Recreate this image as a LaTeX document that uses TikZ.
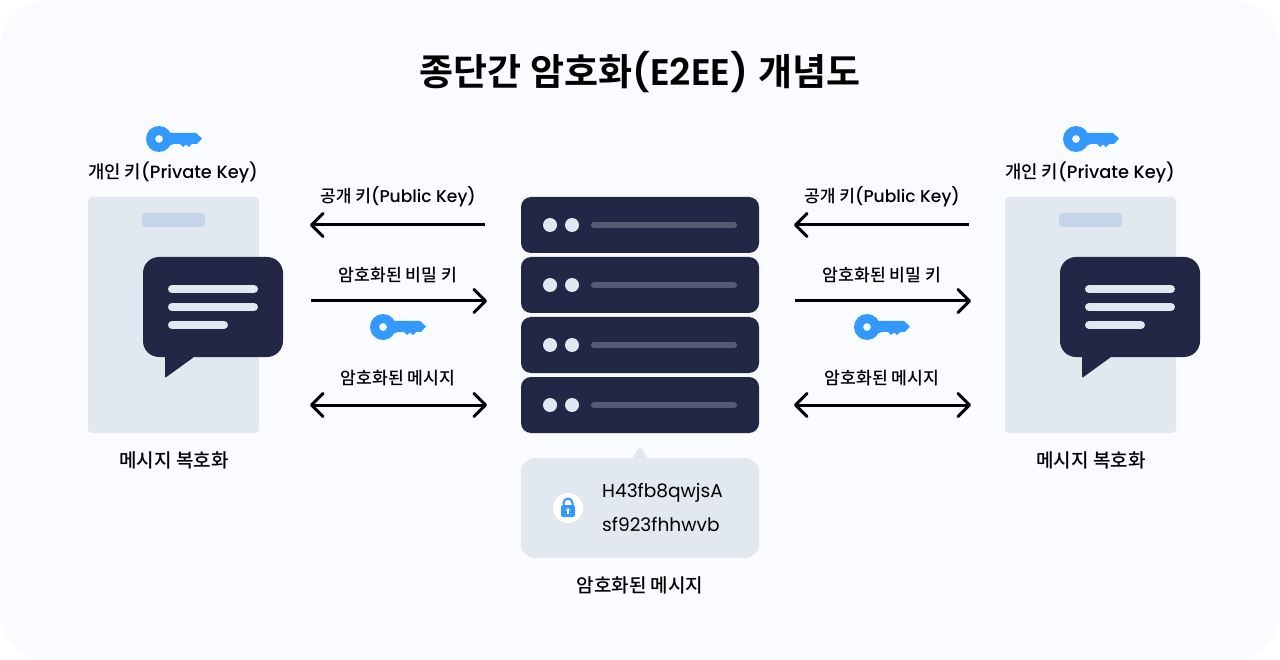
\documentclass[tikz,border=0pt]{standalone}
\usepackage{fontspec}
\usepackage{tikz}
\usetikzlibrary{arrows.meta}
\setmainfont{Poppins Medium}
\newfontfamily\krfont{Noto Sans CJK KR Medium}
\newfontfamily\krtitle{Noto Sans CJK KR Bold}
\newfontfamily\lattitle{Poppins SemiBold}
\newfontfamily\latcode{Poppins}
\definecolor{pagebg}{HTML}{F9FBFF}
\definecolor{navy}{HTML}{222745}
\definecolor{panel}{HTML}{E2E8F0}
\definecolor{pillblue}{HTML}{C5D4E8}
\definecolor{keyblue}{HTML}{3399FF}
\definecolor{barline}{HTML}{565B74}

\begin{document}
\begin{tikzpicture}[x=1pt,y=-1pt,
    box/.style={inner sep=0pt,outer sep=0pt,rounded corners=#1},
    rowbox/.style={box=10pt,fill=navy,minimum width=238pt,minimum height=56pt},
    phonebox/.style={box=4pt,fill=panel,minimum width=171pt,minimum height=236pt},
    bubblebox/.style={box=16pt,fill=navy,minimum width=140pt,minimum height=100pt},
    txt/.style={inner sep=0pt,text=black,font=\fontsize{17.8}{20}\selectfont},
    arrowline/.style={line width=3pt,black,>={Straight Barb[length=11.5pt,width=23pt,line width=3pt,round]}},
    textline/.style={line width=8pt,panel,line cap=round},
    key/.pic={
      \fill[keyblue,even odd rule] (0,0) circle (13pt) (0,0) circle (4pt);
      \fill[keyblue] (9,-6) -- (37,-6) -- (43,-0.5) -- (38,5) -- (33,5) -- (30,8) -- (27,5.5) -- (24,8) -- (21,5) -- (15,5) -- (9,7) -- cycle;
    },
  ]
  \useasboundingbox (0,0) rectangle (1280,660);
  \fill[pagebg,rounded corners=48pt] (0,0) rectangle (1280,660);

  %title
  \node[txt,font=\fontsize{37}{42}\selectfont] (title) at (640,72) {{\krtitle 종단간 암호화}{\lattitle (E2EE)} {\krtitle 개념도}};

  %server
  \foreach \n/\y in {1/225,2/285,3/345,4/405} {
    \node[rowbox] (row\n) at (640,\y) {};
    \fill[panel] (550,\y) circle (7pt);
    \fill[panel] (572,\y) circle (7pt);
    \draw[barline,line width=6pt,line cap=round] (594,\y) -- (734,\y);
  }

  %encrypted message
  \node[box=14pt,fill=panel,minimum width=238pt,minimum height=100pt] (cipher) at (640,508) {};
  \fill[panel] (632,459) -- (640,446) -- (648,459) -- cycle;
  \node[circle,fill=white,minimum size=30pt,inner sep=0pt] (lock) at (568,508) {};
  \draw[keyblue,line width=2pt] (563.5,506) -- (563.5,503) arc[start angle=180,end angle=0,radius=4.5pt] -- (572.5,506);
  \fill[keyblue,rounded corners=2pt] (561,505) rectangle (575,517);
  \fill[white] (568,510) circle (1.8pt);
  \draw[white,line width=1.6pt] (568,510) -- (568,514);
  \node[txt,anchor=west,font=\fontsize{18.6}{22}\selectfont\latcode] (code1) at (602,493) {H43fb8qwjsA};
  \node[txt,anchor=west,font=\fontsize{18.6}{22}\selectfont\latcode] (code2) at (602,524) {sf923fhhwvb};
  \node[txt,font=\fontsize{19}{22}\selectfont\krfont] (cipherlabel) at (640,585.5) {암호화된 메시지};

  %left and right phone
  \foreach \n/\s in {l/0,r/917} {
    \begin{scope}[xshift=\s pt]
      \pic at (159,139) {key};
      \node[txt] (private\n) at (173,172.5) {{\krfont 개인 키}(Private Key)};
      \node[phonebox] (phone\n) at (173.5,315) {};
      \node[box=3pt,fill=pillblue,minimum width=63pt,minimum height=14pt] (pill\n) at (173.5,220) {};
      \node[bubblebox] (bubble\n) at (213,307) {};
      \fill[navy,rounded corners=1pt] (165,350) -- (165,378) -- (194,357) -- (194,350) -- cycle;
      \draw[textline] (172,289) -- (254,289);
      \draw[textline] (172,307) -- (254,307);
      \draw[textline] (172,325) -- (224,325);
      \node[txt,font=\fontsize{19}{22}\selectfont\krfont] (decrypt\n) at (174,460.5) {메시지 복호화};
    \end{scope}
  }

  %arrows on both sides
  \foreach \n/\s in {l/0,r/484} {
    \begin{scope}[xshift=\s pt]
      \node[txt,font=\fontsize{17.1}{20}\selectfont] (pub\n) at (398,196.5) {{\krfont 공개 키}(Public Key)};
      \node[txt,font=\fontsize{17.2}{20}\selectfont\krfont] (sec\n) at (398,275.5) {암호화된 비밀 키};
      \node[txt,font=\fontsize{17.2}{20}\selectfont\krfont] (msg\n) at (398,378.5) {암호화된 메시지};
      \pic at (383,327) {key};
      \coordinate (a\n) at (310,225);
      \coordinate (b\n) at (485,225);
      \coordinate (c\n) at (311,301);
      \coordinate (d\n) at (487,301);
      \coordinate (e\n) at (310,405);
      \coordinate (f\n) at (487,405);
      \draw[arrowline,->] (b\n) -- (a\n);
      \draw[arrowline,->] (c\n) -- (d\n);
      \draw[arrowline,<->] (e\n) -- (f\n);
    \end{scope}
  }
\end{tikzpicture}
\end{document}
